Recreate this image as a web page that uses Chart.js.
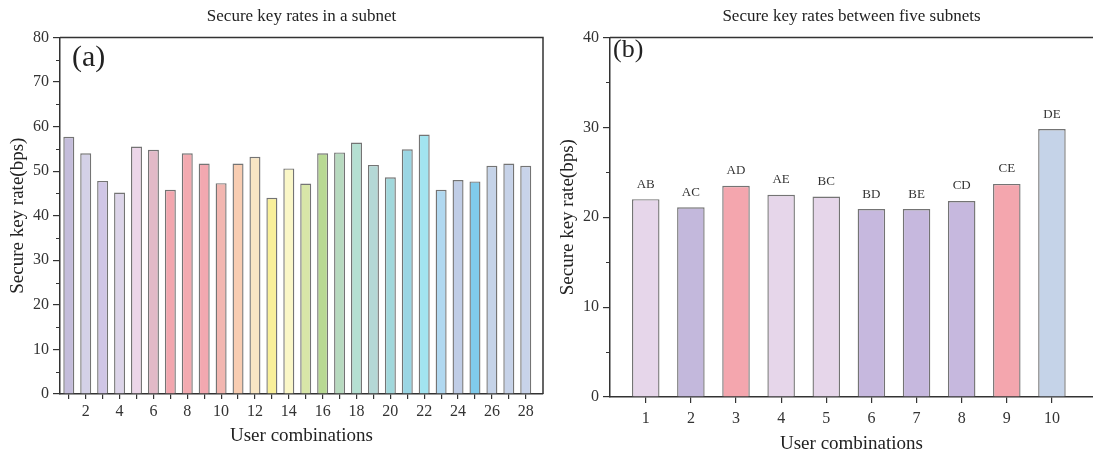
<!DOCTYPE html>
<html><head><meta charset="utf-8">
<script src="https://cdn.jsdelivr.net/npm/chart.js@4.4.1/dist/chart.umd.min.js"></script>
<style>
html,body{margin:0;padding:0;background:#fff;overflow:hidden;width:1093px;height:457px}
#ca{position:absolute;left:0;top:0}
#cb{position:absolute;left:550px;top:0}
</style></head><body>
<canvas id="ca" width="550" height="457"></canvas>
<canvas id="cb" width="543" height="457"></canvas>
<script>
// ---- data: panel (a) ----
const subnetUsers = [1,2,3,4,5,6,7,8,9,10,11,12,13,14,15,16,17,18,19,20,21,22,23,24,25,26,27,28];
const subnetRates = [57.7,54.0,47.8,45.2,55.5,54.8,45.8,54.0,51.7,47.3,51.7,53.2,44.0,50.6,47.2,54.0,54.2,56.4,51.4,48.6,54.9,58.2,45.8,48.0,47.7,51.2,51.7,51.2];
const subnetColors = ['#c4bddb','#d4d1e7','#d0c6e6','#dcd4e9','#ecd6e9','#e2b9c7','#f2a6ae','#f3aab0','#f2a8b0','#f2b6b0','#f8cdb2','#f8e6c4','#f8ef9a','#faf7c7','#d8e6a8','#b8d993','#b7dabf','#b5e0d2','#b4d8d6','#a1d8dc','#9ad6e4','#a2e4f0','#b0d8f0','#c0cde6','#80cbeb','#c5d3e8','#c6d2e8','#c8d3ea'];
const subnetXLabelled = [2,4,6,8,10,12,14,16,18,20,22,24,26,28];
const subnetYTicks = [0,10,20,30,40,50,60,70,80];
const subnetYMinor = [5,15,25,35,45,55,65,75];

// ---- data: panel (b) ----
const pairIndex = [1,2,3,4,5,6,7,8,9,10];
const pairNames = ['AB','AC','AD','AE','BC','BD','BE','CD','CE','DE'];
const pairRates = [22.0,21.1,23.5,22.5,22.3,20.9,20.9,21.8,23.7,29.8];
const pairColors = ['#e6d6ea','#c3b8dc','#f4a6ae','#e6d6ea','#e6d6ea','#c6b8de','#c6b8de','#c6b8de','#f4a6ae','#c5d3e8'];
const pairYTicks = [0,10,20,30,40];
const pairYMinor = [5,15,25,35];

const SERIF = "'Liberation Serif','DejaVu Serif',serif";
const AX = '#333';

function frame(letter, lx, ly, lsize, minor, names, rightLine) {
  return {
    id: 'frame',
    afterDatasetsDraw(chart) {
      const ctx = chart.ctx;
      if (names) {
        const meta = chart.getDatasetMeta(0);
        ctx.save();
        ctx.font = '13px ' + SERIF;
        ctx.fillStyle = '#333';
        ctx.textAlign = 'center';
        ctx.textBaseline = 'middle';
        meta.data.forEach((bar, i) => ctx.fillText(names[i], bar.x, bar.y - 15));
        ctx.restore();
      }
    },
    afterDraw(chart) {
      const ctx = chart.ctx, a = chart.chartArea, y = chart.scales.y;
      ctx.save();
      ctx.strokeStyle = AX;
      ctx.lineWidth = 1.5;
      ctx.beginPath();
      ctx.moveTo(a.left, a.top); ctx.lineTo(a.right, a.top);
      if (rightLine) ctx.lineTo(a.right, a.bottom);
      ctx.stroke();
      ctx.lineWidth = 1.2;
      ctx.beginPath();
      minor.forEach(v => {
        const py = Math.round(y.getPixelForValue(v)) + 0.5;
        ctx.moveTo(a.left - 4, py); ctx.lineTo(a.left, py);
      });
      ctx.stroke();
      ctx.font = lsize + 'px ' + SERIF;
      ctx.fillStyle = '#222';
      ctx.textAlign = 'left';
      ctx.textBaseline = 'alphabetic';
      ctx.fillText(letter, a.left + lx, a.top + ly);
      ctx.restore();
    }
  };
}

function makeChart(id, o) {
  return new Chart(document.getElementById(id), {
    type: 'bar',
    data: {
      datasets: [{
        data: o.xs.map((x, i) => ({x: x, y: o.ys[i]})),
        backgroundColor: o.colors,
        borderColor: '#747474',
        borderWidth: 1.4,
        borderSkipped: 'bottom',
        barPercentage: 1,
        categoryPercentage: o.barFrac
      }]
    },
    options: {
      responsive: false,
      animation: false,
      devicePixelRatio: 1,
      layout: {padding: {left: 0, right: o.padRight, top: 0, bottom: 0}},
      plugins: {
        legend: {display: false},
        tooltip: {enabled: false},
        title: {
          display: true, text: o.title, fullSize: false, color: '#222',
          font: {family: SERIF, size: 17, weight: 'normal'},
          padding: {top: 6, bottom: 11}
        }
      },
      scales: {
        x: {
          type: 'linear', min: o.xmin, max: o.xmax, offset: false,
          afterBuildTicks: s => { s.ticks = o.xs.map(v => ({value: v})); },
          afterFit: s => { s.height = o.xh; },
          grid: {display: true, offset: false, drawOnChartArea: false, drawTicks: true, tickLength: o.xtl, color: AX, lineWidth: 1.2},
          border: {display: true, color: AX, width: 1.5},
          ticks: {
            autoSkip: false, maxRotation: 0, padding: o.xtp, color: '#333',
            font: {family: SERIF, size: 16},
            callback: v => (o.xLabelled.includes(v) ? String(v) : '')
          },
          title: {display: true, text: 'User combinations', color: '#222',
            font: {family: SERIF, size: 19}, padding: {top: 0, bottom: o.xtitlePad}}
        },
        y: {
          min: 0, max: o.ymax,
          afterBuildTicks: s => { s.ticks = o.yticks.map(v => ({value: v})); },
          afterFit: s => { s.width = 60; },
          grid: {display: true, drawOnChartArea: false, drawTicks: true, tickLength: 7, color: AX, lineWidth: 1.2},
          border: {display: true, color: AX, width: 1.5},
          ticks: {padding: 4, color: '#333', font: {family: SERIF, size: 16}},
          title: {display: true, text: 'Secure key rate(bps)', color: '#222',
            font: {family: SERIF, size: 19}, padding: {top: 7, bottom: 0}}
        }
      }
    },
    plugins: [frame(o.letter, o.lx, o.ly, o.lsize, o.minor, o.names, o.rightLine)]
  });
}

makeChart('ca', {
  xs: subnetUsers, ys: subnetRates, colors: subnetColors, barFrac: 0.65,
  title: 'Secure key rates in a subnet', padRight: 7,
  xmin: 0.48, xmax: 29.02, xh: 63, xtl: 5, xtp: 3, xtitlePad: 10,
  xLabelled: subnetXLabelled, ymax: 80, yticks: subnetYTicks, minor: subnetYMinor,
  letter: '(a)', lx: 12, ly: 29, lsize: 30, names: null, rightLine: true
});

makeChart('cb', {
  xs: pairIndex, ys: pairRates, colors: pairColors, barFrac: 0.61,
  title: 'Secure key rates between five subnets', padRight: 0,
  xmin: 0.208, xmax: 10.91, xh: 60, xtl: 6, xtp: 6, xtitlePad: 2,
  xLabelled: pairIndex, ymax: 40, yticks: pairYTicks, minor: pairYMinor,
  letter: '(b)', lx: 3, ly: 20, lsize: 26, names: pairNames, rightLine: false
});
</script>
</body></html>
